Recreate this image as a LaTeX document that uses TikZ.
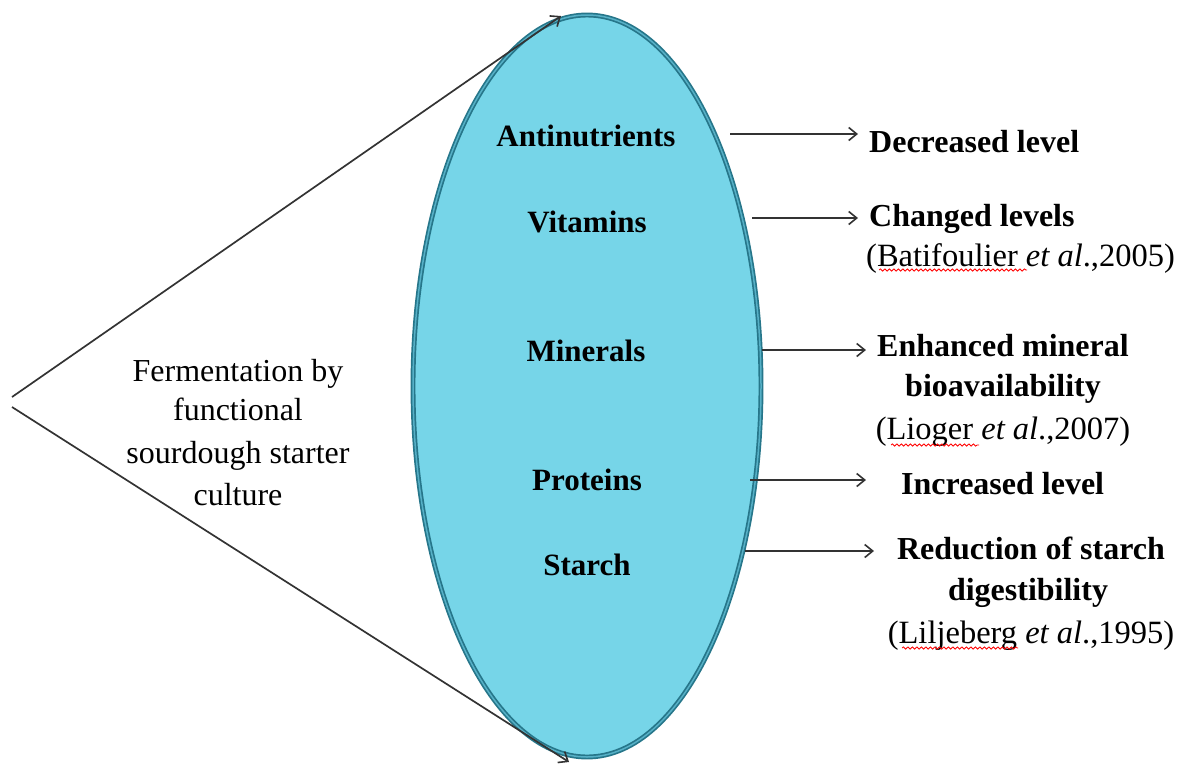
\documentclass[tikz,border=0pt]{standalone}
\usepackage{fontspec}
\setmainfont{Liberation Serif}
\usetikzlibrary{arrows.meta,decorations.pathmorphing}
\definecolor{ellfill}{RGB}{118,213,232}
\definecolor{elledge}{RGB}{38,118,138}
\definecolor{ellgap}{RGB}{86,176,198}
\begin{document}
\begin{tikzpicture}[x=1pt,y=-1pt,
  lbl/.style={font=\fontsize{31}{38}\selectfont\bfseries, inner sep=0, anchor=base},
  res/.style={font=\fontsize{32}{38}\selectfont\bfseries, inner sep=0},
  cite/.style={font=\fontsize{32.5}{38}\selectfont, inner sep=0},
  lefttxt/.style={font=\fontsize{32}{38}\selectfont, inner sep=0, anchor=base},
  arr/.style={-{Straight Barb[length=8pt,width=13pt,line width=1.6pt]}, line width=1.7pt, draw=black!80},
  squig/.style={draw=red, line width=0.8pt, decorate, decoration={snake, amplitude=1.1pt, segment length=4.5pt}}]
\useasboundingbox (0,0) rectangle (1184,764);
% ellipse
\draw[draw=elledge, line width=1.7pt, double=ellgap, double distance=1.5pt, fill=ellfill]
  (587,386) ellipse [x radius=174, y radius=371];
% labels in ellipse
\node[lbl] (anti) at (586,146) {Antinutrients};
\node[lbl] (vit) at (587,232) {Vitamins};
\node[lbl] (min) at (586,361) {Minerals};
\node[lbl] (prot) at (587,490) {Proteins};
\node[lbl] (starch) at (587,575) {Starch};
% left text
\node[lefttxt] (f1) at (238,381) {Fermentation by};
\node[lefttxt] (f2) at (238,420) {functional};
\node[lefttxt] (f3) at (238,463) {sourdough starter};
\node[lefttxt] (f4) at (238,505) {culture};
% left arrows
\coordinate (apexA) at (12,397);
\coordinate (apexB) at (12,407);
\coordinate (topTip) at (561,16);
\coordinate (botTip) at (569,762);
\draw[arr] (apexA) -- (topTip);
\draw[arr] (apexB) -- (botTip);
% right texts
\node[res, anchor=base west] (r1) at (869,152) {Decreased level};
\node[res, anchor=base west] (r2) at (869,226) {Changed levels};
\node[cite, anchor=base west] (r2c) at (866,266) {(Batifoulier \textit{et al}.,2005)};
\node[res, anchor=base] (r3) at (1003,356) {Enhanced mineral};
\node[res, anchor=base] (r3b) at (1003,396) {bioavailability};
\node[cite, anchor=base] (r3c) at (1003,439) {(Lioger \textit{et al}.,2007)};
\node[res, anchor=base west] (r4) at (901,494) {Increased level};
\node[res, anchor=base] (r5) at (1031,559) {Reduction of starch};
\node[res, anchor=base] (r5b) at (1028,600) {digestibility};
\node[cite, anchor=base] (r5c) at (1031,643) {(Liljeberg \textit{et al}.,1995)};
% right arrows
\coordinate (s1) at (730,134); \coordinate (e1) at (858,134);
\coordinate (s2) at (752,218); \coordinate (e2) at (858,218);
\coordinate (s3) at (762,350); \coordinate (e3) at (866,350);
\coordinate (s4) at (750,480); \coordinate (e4) at (866,480);
\coordinate (s5) at (745,551); \coordinate (e5) at (874,551);
\draw[arr] (s1) -- (e1);
\draw[arr] (s2) -- (e2);
\draw[arr] (s3) -- (e3);
\draw[arr] (s4) -- (e4);
\draw[arr] (s5) -- (e5);
% spell-check squiggles
\draw[squig] (879,270) -- (1027,270);
\draw[squig] (891,445) -- (979,445);
\draw[squig] (902,648) -- (1018,648);
\end{tikzpicture}
\end{document}
